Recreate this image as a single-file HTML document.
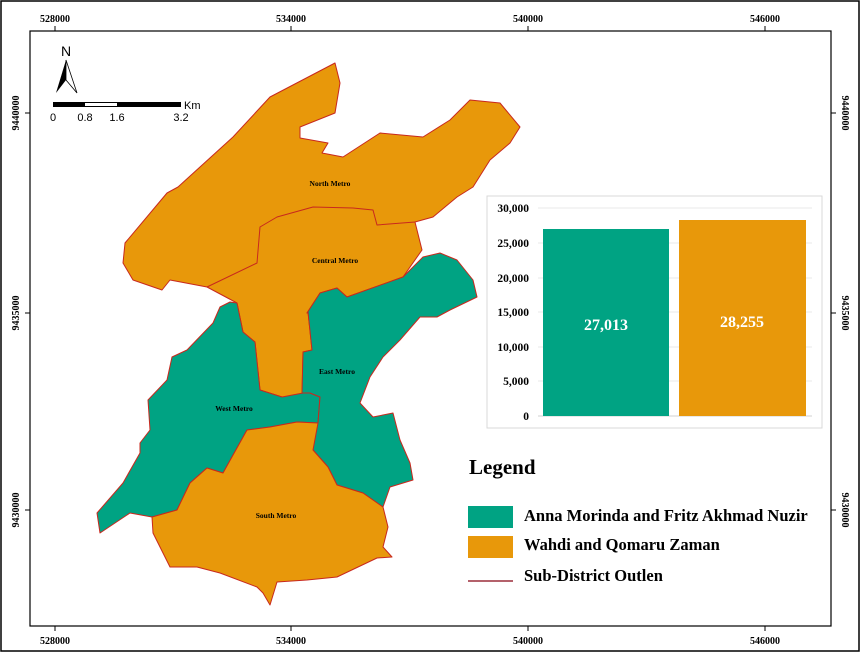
<!DOCTYPE html>
<html><head><style>
body{margin:0;background:#fff;}
svg{display:block;}
.t{font-family:"Liberation Serif",serif;font-weight:bold;fill:#000;}
.m{font-family:"Liberation Serif",serif;font-weight:bold;font-size:7.5px;fill:#000;}
.s{font-family:"Liberation Sans",sans-serif;fill:#000;}
</style></head><body>
<svg width="861" height="653" viewBox="0 0 861 653">
<rect x="1" y="1" width="858" height="650" fill="#fff" stroke="#000" stroke-width="1.5"/>
<rect x="30" y="31" width="801" height="595" fill="#fff" stroke="#000" stroke-width="1.2"/>
<g stroke="#000" stroke-width="1">
<line x1="55" y1="26" x2="55" y2="31"/><line x1="291" y1="26" x2="291" y2="31"/><line x1="528" y1="26" x2="528" y2="31"/><line x1="765" y1="26" x2="765" y2="31"/>
<line x1="55" y1="626" x2="55" y2="631"/><line x1="291" y1="626" x2="291" y2="631"/><line x1="528" y1="626" x2="528" y2="631"/><line x1="765" y1="626" x2="765" y2="631"/>
<line x1="25" y1="113" x2="30" y2="113"/><line x1="25" y1="313" x2="30" y2="313"/><line x1="25" y1="510" x2="30" y2="510"/>
<line x1="831" y1="113" x2="836" y2="113"/><line x1="831" y1="313" x2="836" y2="313"/><line x1="831" y1="510" x2="836" y2="510"/>
</g>
<g class="t" text-anchor="middle" style="font-size:10px">
<text x="55" y="22">528000</text><text x="291" y="22">534000</text><text x="528" y="22">540000</text><text x="765" y="22">546000</text>
<text x="55" y="644">528000</text><text x="291" y="644">534000</text><text x="528" y="644">540000</text><text x="765" y="644">546000</text>
<text transform="translate(19,113) rotate(-90)">9440000</text>
<text transform="translate(19,313) rotate(-90)">9435000</text>
<text transform="translate(19,510) rotate(-90)">9430000</text>
<text transform="translate(842,113) rotate(90)">9440000</text>
<text transform="translate(842,313) rotate(90)">9435000</text>
<text transform="translate(842,510) rotate(90)">9430000</text>
</g>
<text x="66" y="56" class="s" text-anchor="middle" style="font-size:14px">N</text>
<polygon points="66,60 56,93 66,80" fill="#000"/>
<polygon points="66,60 77,93 66,80" fill="#fff" stroke="#000" stroke-width="0.8"/>
<rect x="53" y="102" width="128" height="5" fill="#000"/>
<rect x="85" y="103" width="32" height="3" fill="#fff"/>
<text x="184" y="109" class="s" style="font-size:11px">Km</text>
<g class="s" text-anchor="middle" style="font-size:11px"><text x="53" y="121">0</text><text x="85" y="121">0.8</text><text x="117" y="121">1.6</text><text x="181" y="121">3.2</text></g>
<g stroke="#c8281e" stroke-width="1" stroke-linejoin="round">
<polygon fill="#e8980a" points="125,243 167,193 178,187 233,137 270,97 335,63 340,83 335,113 300,127 300,138 328,143 322,153 343,157 380,133 423,137 450,120 470,100 500,103 520,127 510,143 490,160 473,187 457,197 433,217 415,222 422,250 403,277 347,297 337,288 320,293 307,313 308,312 312,350 303,352 302,397 282,397 260,390 255,342 243,332 237,303 207,287 170,280 162,290 133,280 123,263"/>
<polyline fill="none" points="207,287 257,263 260,227 277,217 313,207 353,208 373,210 377,225 415,222"/>
<polygon fill="#00a383" points="230,302 237,303 243,332 255,342 260,390 282,397 303,393 310,393 320,397 318,423 297,422 270,427 247,430 223,473 207,468 190,483 177,510 152,517 130,513 100,533 97,513 123,483 140,453 140,443 150,430 148,400 167,380 172,357 187,350 213,323 220,307"/>
<polygon fill="#00a383" points="423,257 440,253 457,260 473,280 477,297 450,310 437,317 420,317 400,340 383,357 370,377 360,403 373,417 393,413 400,440 410,463 413,480 390,487 383,507 363,493 337,485 328,467 313,450 313,423 318,423 320,397 310,393 302,393 303,352 312,350 308,312 307,313 320,293 337,288 347,297 403,277"/>
<polygon fill="#e8980a" points="247,430 270,427 297,422 318,423 313,450 328,467 337,485 363,493 383,507 388,527 383,547 392,557 377,558 337,577 307,580 277,582 270,605 263,593 257,587 220,573 197,567 170,567 153,533 152,517 177,510 190,483 207,468 223,473"/>
</g>
<g class="m" text-anchor="middle">
<text x="330" y="186">North Metro</text><text x="335" y="263">Central Metro</text><text x="337" y="374">East Metro</text><text x="234" y="411">West Metro</text><text x="276" y="518">South Metro</text>
</g>
<rect x="487" y="196" width="335" height="232" fill="#fff" stroke="#d9d9d9"/>
<g stroke="#e3e3e3" stroke-width="0.8">
<line x1="538" y1="208" x2="812" y2="208"/><line x1="538" y1="243" x2="812" y2="243"/><line x1="538" y1="278" x2="812" y2="278"/><line x1="538" y1="312" x2="812" y2="312"/><line x1="538" y1="347" x2="812" y2="347"/><line x1="538" y1="381" x2="812" y2="381"/>
</g>
<line x1="538" y1="416" x2="812" y2="416" stroke="#d0d0d0"/>
<rect x="543" y="229" width="126" height="187" fill="#00a383"/>
<rect x="679" y="220" width="127" height="196" fill="#e8980a"/>
<g class="t" text-anchor="end" style="font-size:11.5px">
<text x="529" y="212">30,000</text><text x="529" y="247">25,000</text><text x="529" y="282">20,000</text><text x="529" y="316">15,000</text><text x="529" y="351">10,000</text><text x="529" y="385">5,000</text><text x="529" y="420">0</text>
</g>
<text x="606" y="330" class="t" text-anchor="middle" style="font-size:16px;fill:#fff">27,013</text>
<text x="742" y="327" class="t" text-anchor="middle" style="font-size:16px;fill:#fff">28,255</text>
<text x="469" y="474" class="t" style="font-size:21px">Legend</text>
<rect x="468" y="506" width="45" height="22" fill="#00a383"/>
<rect x="468" y="536" width="45" height="22" fill="#e8980a"/>
<line x1="468" y1="581" x2="513" y2="581" stroke="#9b2d3a" stroke-width="1.5"/>
<g class="t" style="font-size:16.5px">
<text x="524" y="521">Anna Morinda and Fritz Akhmad Nuzir</text>
<text x="524" y="550">Wahdi and Qomaru Zaman</text>
<text x="524" y="581">Sub-District Outlen</text>
</g>
</svg>
</body></html>
